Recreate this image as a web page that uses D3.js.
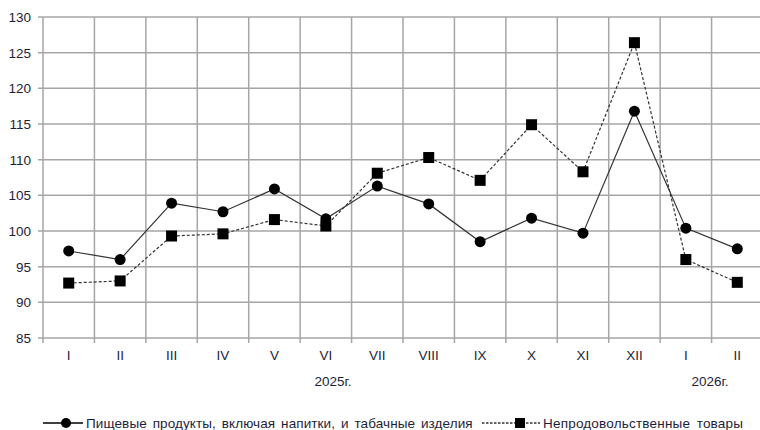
<!DOCTYPE html>
<html>
<head>
<meta charset="utf-8">
<script src="https://cdn.jsdelivr.net/npm/d3@7"></script>
<style>
  body { margin: 0; background: #fff; }
  text { font-family: "Liberation Sans", Arial, sans-serif; fill: #1e1e3a; }
</style>
</head>
<body>
<div id="chart"></div>
<script>
const months = ["I", "II", "III", "IV", "V", "VI", "VII", "VIII", "IX", "X", "XI", "XII", "I ", "II "];
const foodValues = [97.2, 96.0, 103.9, 102.7, 105.9, 101.7, 106.3, 103.8, 98.5, 101.8, 99.7, 116.8, 100.4, 97.5];
const nonFoodValues = [92.7, 93.0, 99.3, 99.6, 101.6, 100.7, 108.1, 110.3, 107.1, 114.9, 108.3, 126.4, 96.0, 92.8];
const yTicks = [85, 90, 95, 100, 105, 110, 115, 120, 125, 130];
const yearLabels = [{text: "2025г.", at: 333}, {text: "2026г.", at: 710}];
const foodName = "Пищевые продукты, включая напитки, и табачные  изделия";
const nonFoodName = "Непродовольственные  товары";

const margin = {top: 17, right: 0, bottom: 92, left: 43},
    width = 763 - margin.left,
    height = 430 - margin.top - margin.bottom;

const svg = d3.select("#chart")
    .append("svg")
    .attr("width", 760)
    .attr("height", 430)
    .append("g")
    .attr("transform", `translate(${margin.left}, ${margin.top})`);

const x = d3.scaleBand()
    .range([0, width])
    .domain(months);

const y = d3.scaleLinear()
    .range([height, 0])
    .domain([85, 130]);

// horizontal grid
svg.selectAll(".hgrid")
    .data(yTicks)
    .enter().append("line")
    .attr("x1", -5).attr("x2", width)
    .attr("y1", d => y(d)).attr("y2", d => y(d))
    .style("stroke", "#a6a6a6")
    .style("stroke-width", 1.5);

// vertical grid, with tick below axis
svg.selectAll(".vgrid")
    .data(months)
    .enter().append("line")
    .attr("x1", d => x(d)).attr("x2", d => x(d))
    .attr("y1", 0).attr("y2", height + 5)
    .style("stroke", "#a6a6a6")
    .style("stroke-width", 1.5);

svg.selectAll(".ylab")
    .data(yTicks)
    .enter().append("text")
    .attr("x", -12)
    .attr("y", d => y(d) + 5)
    .attr("text-anchor", "end")
    .style("font-size", "13.5px")
    .text(d => d);

svg.selectAll(".xlab")
    .data(months)
    .enter().append("text")
    .attr("x", d => x(d) + x.bandwidth() / 2)
    .attr("y", height + 22)
    .attr("text-anchor", "middle")
    .style("font-size", "13.5px")
    .text(d => d.trim());

svg.selectAll(".year")
    .data(yearLabels)
    .enter().append("text")
    .attr("x", d => d.at - margin.left)
    .attr("y", height + 48)
    .attr("text-anchor", "middle")
    .style("font-size", "13.5px")
    .text(d => d.text);

const cx = (d, i) => x(months[i]) + x.bandwidth() / 2;

const line = d3.line()
    .x((d, i) => cx(d, i))
    .y(d => y(d));

svg.append("path")
    .datum(nonFoodValues)
    .attr("d", line)
    .style("fill", "none")
    .style("stroke", "#333")
    .style("stroke-width", 1.2)
    .style("stroke-dasharray", "3,2");

svg.append("path")
    .datum(foodValues)
    .attr("d", line)
    .style("fill", "none")
    .style("stroke", "#333")
    .style("stroke-width", 1.2);

svg.selectAll(".sq")
    .data(nonFoodValues)
    .enter().append("rect")
    .attr("x", (d, i) => cx(d, i) - 5.5)
    .attr("y", d => y(d) - 5.5)
    .attr("width", 11)
    .attr("height", 11)
    .style("fill", "#000");

svg.selectAll(".dot")
    .data(foodValues)
    .enter().append("circle")
    .attr("cx", (d, i) => cx(d, i))
    .attr("cy", d => y(d))
    .attr("r", 5.5)
    .style("fill", "#000");

// legend
const legend = d3.select("svg").append("g");
const ly = 423;

legend.append("line")
    .attr("x1", 43).attr("x2", 83).attr("y1", ly).attr("y2", ly)
    .style("stroke", "#000").style("stroke-width", 1.5);
legend.append("circle")
    .attr("cx", 66).attr("cy", ly).attr("r", 5).style("fill", "#000");
legend.append("text")
    .attr("x", 86).attr("y", ly + 5)
    .style("font-size", "13.5px")
    .style("letter-spacing", "0.1px")
    .style("word-spacing", "2px")
    .text(foodName);

legend.append("line")
    .attr("x1", 482).attr("x2", 540).attr("y1", ly).attr("y2", ly)
    .style("stroke", "#333").style("stroke-width", 1.3)
    .style("stroke-dasharray", "2.5,1.5");
legend.append("rect")
    .attr("x", 515).attr("y", ly - 5).attr("width", 10).attr("height", 10)
    .style("fill", "#000");
legend.append("text")
    .attr("x", 543).attr("y", ly + 5)
    .style("font-size", "13.5px")
    .style("letter-spacing", "0.2px")
    .style("word-spacing", "2.5px")
    .text(nonFoodName);
</script>
</body>
</html>
